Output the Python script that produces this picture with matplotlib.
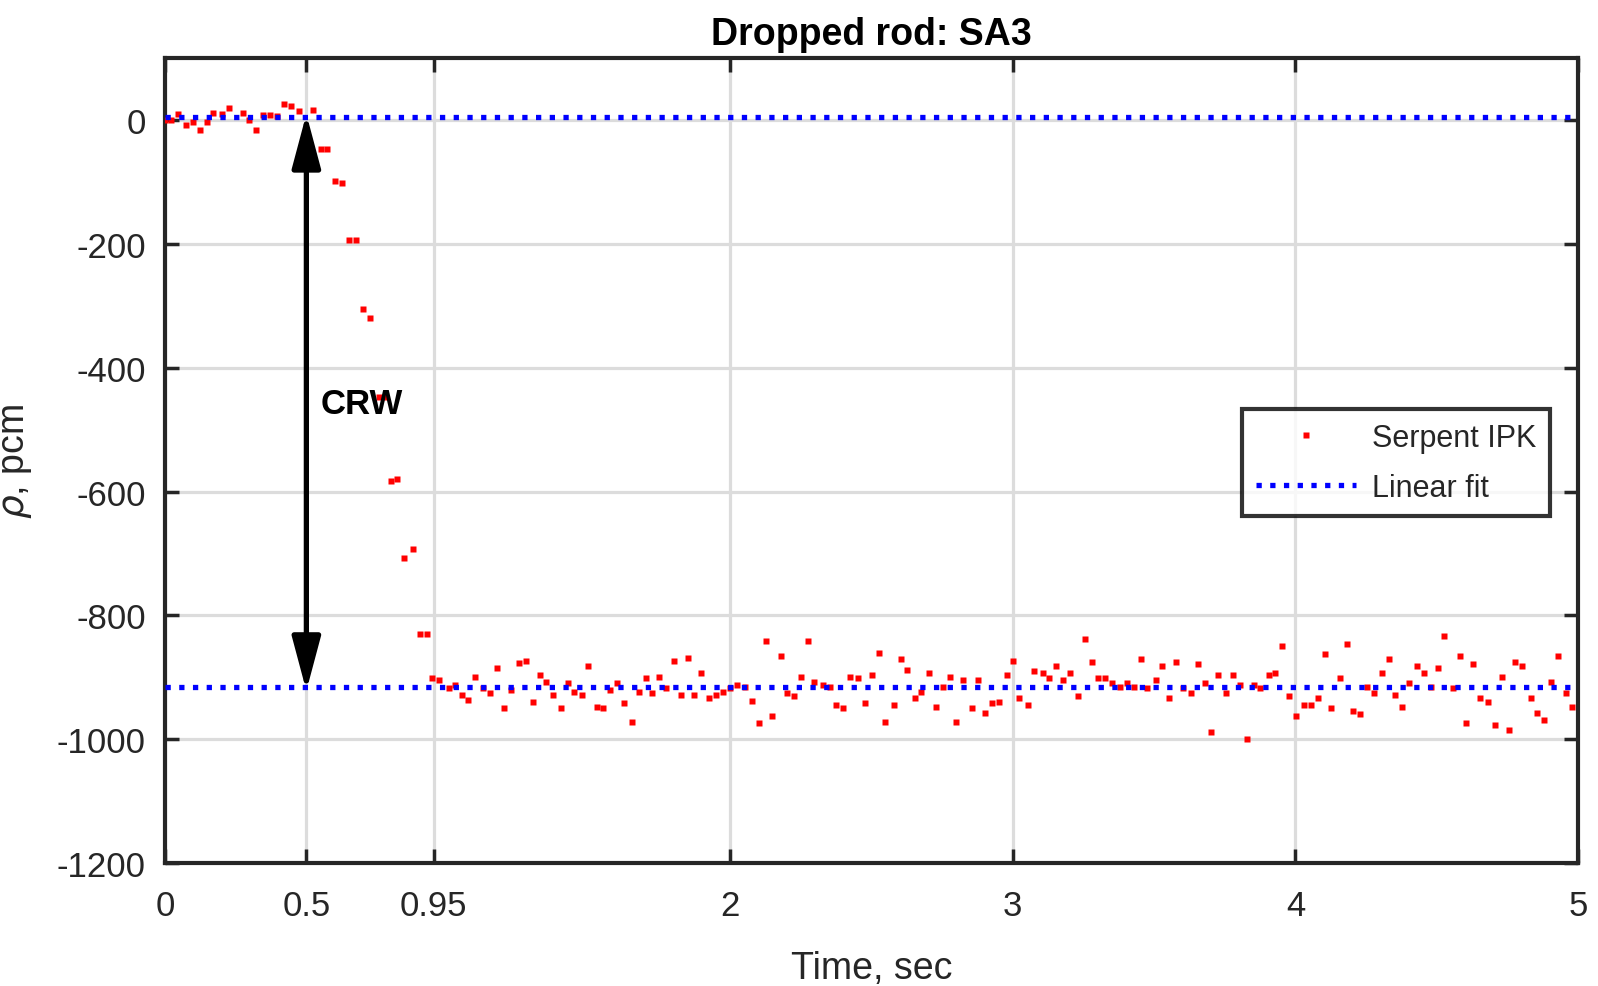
import numpy as np
import matplotlib
matplotlib.use("Agg")
import matplotlib.pyplot as plt

# Serpent IPK reactivity trace (time in sec, rho in pcm)
t_sec = [0.000, 0.020, 0.047, 0.074, 0.098, 0.124, 0.148, 0.171, 0.200, 0.226,
         0.274, 0.297, 0.321, 0.348, 0.371, 0.395, 0.422, 0.446, 0.475, 0.522,
         0.551, 0.572, 0.602, 0.625, 0.652, 0.675, 0.700, 0.725, 0.757, 0.780,
         0.800, 0.822, 0.847, 0.876, 0.902, 0.926, 0.946, 0.971,
         1.003, 1.026, 1.050, 1.073, 1.097, 1.126, 1.150, 1.174, 1.200, 1.224,
         1.253, 1.276, 1.301, 1.325, 1.348, 1.372, 1.401, 1.425, 1.448, 1.474,
         1.498, 1.527, 1.551, 1.575, 1.598, 1.624, 1.654, 1.677, 1.701, 1.724,
         1.748, 1.771, 1.802, 1.826, 1.849, 1.873, 1.896, 1.926, 1.949, 1.976,
         2.000, 2.023, 2.052, 2.076, 2.102, 2.125, 2.149, 2.179, 2.202, 2.227,
         2.250, 2.274, 2.297, 2.328, 2.352, 2.375, 2.400, 2.424, 2.453, 2.477,
         2.501, 2.525, 2.549, 2.579, 2.603, 2.627, 2.652, 2.675, 2.705, 2.728,
         2.754, 2.776, 2.800, 2.825, 2.854, 2.878, 2.901, 2.925, 2.951, 2.978,
         3.000, 3.023, 3.052, 3.075, 3.106, 3.129, 3.153, 3.176, 3.201, 3.231,
         3.255, 3.279, 3.302, 3.326, 3.351, 3.380, 3.404, 3.427, 3.452, 3.476,
         3.505, 3.528, 3.553, 3.577, 3.601, 3.630, 3.655, 3.679, 3.702, 3.727,
         3.756, 3.780, 3.804, 3.828, 3.852, 3.876, 3.905, 3.929, 3.952, 3.977,
         4.001, 4.032, 4.055, 4.079, 4.103, 4.127, 4.158, 4.181, 4.205, 4.229,
         4.252, 4.277, 4.306, 4.330, 4.353, 4.378, 4.402, 4.431, 4.455, 4.480,
         4.503, 4.527, 4.556, 4.581, 4.605, 4.628, 4.653, 4.683, 4.706, 4.730,
         4.754, 4.778, 4.801, 4.832, 4.856, 4.879, 4.903, 4.928, 4.957, 4.980]
rho_pcm = [0, 0, 10, -8, -3, -16, -3, 11, 10, 20,
           12, 0, -16, 9, 9, 6, 26, 23, 14, 17,
           -47, -47, -99, -101, -194, -194, -305, -319, -447, -447,
           -583, -580, -708, -692, -830, -830, -901, -904,
           -918, -913, -929, -937, -899, -918, -926, -885, -950, -921,
           -877, -874, -940, -896, -907, -929, -950, -909, -923, -929,
           -882, -948, -950, -921, -909, -942, -972, -923, -901, -926,
           -899, -918, -874, -929, -869, -929, -893, -934, -929, -923,
           -918, -912, -915, -939, -974, -841, -963, -865, -926, -931,
           -899, -841, -907, -912, -915, -945, -950, -899, -901, -942,
           -896, -860, -972, -945, -871, -888, -934, -923, -893, -948,
           -915, -899, -972, -904, -950, -904, -958, -942, -940, -896,
           -874, -934, -945, -890, -893, -901, -882, -904, -893, -931,
           -838, -876, -901, -901, -909, -915, -909, -915, -871, -918,
           -904, -882, -934, -876, -918, -926, -879, -909, -988, -896,
           -926, -896, -912, -999, -912, -918, -896, -893, -849, -931,
           -963, -945, -945, -934, -863, -950, -901, -847, -955, -960,
           -915, -926, -893, -871, -929, -948, -909, -882, -893, -915,
           -885, -833, -918, -865, -974, -879, -934, -940, -977, -899,
           -985, -876, -882, -934, -958, -969, -907, -865, -926, -948]

fit_levels = [5, -915]          # before / after the drop
fit_span = [0, 5]
crw_time = 0.5

xtick_vals = [0, 0.5, 0.95, 2, 3, 4, 5]
xtick_labels = ["0", "0.5", "0.95", "2", "3", "4", "5"]
ytick_vals = [-1200, -1000, -800, -600, -400, -200, 0]

plt.rcParams['font.family'] = ['Liberation Sans', 'DejaVu Sans']
plt.rcParams['mathtext.fontset'] = 'dejavusans'
plt.rcParams['axes.unicode_minus'] = False

dark = "#262626"
fig = plt.figure(figsize=(15.98, 9.87), dpi=100)
ax = fig.add_axes([0.1033, 0.1246, 0.8842, 0.8154])

ax.plot(t_sec, rho_pcm, 's', color='red', ms=4.6, mec='none',
        label='Serpent IPK', zorder=3)
for i, lev in enumerate(fit_levels):
    ax.plot(fit_span, [lev, lev], color='blue', lw=3.8, ls=(0, (1, 1.6)),
            dash_capstyle='butt', label='Linear fit' if i == 0 else None,
            zorder=4)

ax.annotate("", xy=(crw_time, fit_levels[0] + 5), xytext=(crw_time, fit_levels[1] - 7),
            arrowprops=dict(arrowstyle='<|-|>,head_length=1.5,head_width=0.4',
                            color='black', lw=3.8, mutation_scale=22,
                            shrinkA=0, shrinkB=0), zorder=5)
ax.text(0.552, -458, "CRW", fontsize=25, fontweight='bold', color='black',
        va='center', ha='left', zorder=6)

ax.set_xlim(0, 5)
ax.set_ylim(-1200, 100)
ax.set_xticks(xtick_vals)
ax.set_xticklabels(xtick_labels)
ax.set_yticks(ytick_vals)
ax.grid(True, color='#dcdcdc', lw=2.3)
ax.set_axisbelow(True)
ax.tick_params(direction='in', length=10, width=2.5, colors=dark, labelsize=25,
               top=True, right=True, pad=14)
ax.tick_params(axis='x', pad=19)
for s in ax.spines.values():
    s.set_linewidth(3)
    s.set_color(dark)

ax.set_title("Dropped rod: SA3", fontsize=27, fontweight='bold',
             color='black', pad=10)
ax.set_xlabel("Time, sec", fontsize=27, color=dark, labelpad=20)
ax.set_ylabel(r"$\rho$, pcm", fontsize=27, color=dark)
ax.yaxis.set_label_coords(-0.093, 0.5)

leg = ax.legend(loc='upper right', bbox_to_anchor=(0.980, 0.564), fontsize=22,
                frameon=True, fancybox=False, handlelength=3.3,
                handletextpad=0.5, borderpad=0.45, labelspacing=0.65,
                borderaxespad=0)
leg.get_frame().set_edgecolor('black')
leg.get_frame().set_linewidth(3)
for txt in leg.get_texts():
    txt.set_color(dark)

fig.savefig("out.png", dpi=100)
